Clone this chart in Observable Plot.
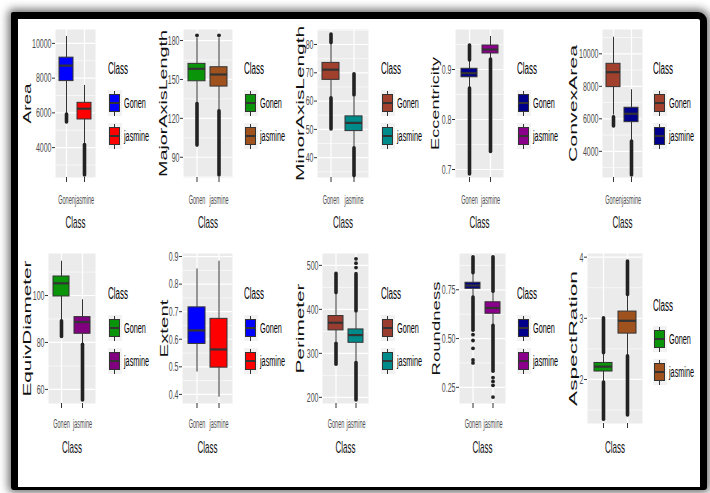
<!DOCTYPE html>
<html><head><meta charset="utf-8">
<script src="https://cdn.jsdelivr.net/npm/d3@7"></script>
<script src="https://cdn.jsdelivr.net/npm/@observablehq/plot@0.6"></script>
<style>
html,body{margin:0;padding:0;background:#fff;}
#page{position:relative;width:710px;height:493px;overflow:hidden;font-family:"Liberation Sans",Arial,sans-serif;}
#border{position:absolute;left:11px;top:12px;width:696px;height:478px;box-sizing:border-box;border-style:solid;border-color:#000;border-width:7px 7px 3px 7px;background:#fff;box-shadow:0 0 9px 3px rgba(0,0,0,0.55);border-radius:2px 9px 3px 3px;}
.pan{position:absolute;}
.lg-title{position:absolute;font-size:16px;line-height:16px;color:#000;transform:scaleX(0.5);transform-origin:0 0;white-space:nowrap;}
.lg-label{position:absolute;font-size:14px;line-height:18px;color:#000;transform:scaleX(0.52);transform-origin:0 0;white-space:nowrap;}
.lg-key{position:absolute;width:14px;height:26px;background:#F2F2F2;}
.lg-key .w{position:absolute;left:6.5px;top:0.5px;width:1px;height:25px;background:#333;}
.lg-key .b{position:absolute;left:1.5px;top:4px;width:11px;height:18px;box-sizing:border-box;border:1px solid #333;}
.lg-key .m{position:absolute;left:1.5px;top:12px;width:11px;height:2px;background:#333;}
</style></head>
<body>
<div id="page"><div id="border"></div></div>
<script>
// ---------------- data ----------------
const classes = ["Gonen", "jasmine"];
const features = ["Area","MajorAxisLength","MinorAxisLength","Eccentricity","ConvexArea",
                  "EquivDiameter","Extent","Perimeter","Roundness","AspectRation"];
const legendTitle = "Class";
const xAxisTitle = "Class";
const showClassTickLabels = [true,true,true,true,true,true,true,true,true,false];

const yTicks = [
  [4000,6000,8000,10000],
  [90,120,150,180],
  [40,50,60,70,80],
  [0.7,0.8,0.9],
  [4000,6000,8000,10000],
  [60,80,100],
  [0.4,0.5,0.6,0.7,0.8,0.9],
  [200,300,400,500],
  [0.25,0.5,0.75],
  [2,3,4]
];
const yTickLabels = [
  ["4000","6000","8000","10000"],
  ["90","120","150","180"],
  ["40","50","60","70","80"],
  ["0.7","0.8","0.9"],
  ["4000","6000","8000","10000"],
  ["60","80","100"],
  ["0.4","0.5","0.6","0.7","0.8","0.9"],
  ["200","300","400","500"],
  ["0.25","0.50","0.75"],
  ["2","3","4"]
];
const yMinor = [
  [3000,5000,7000,9000],
  [75,105,135,165],
  [35,45,55,65,75,85],
  [0.75,0.85,0.95],
  [3000,5000,7000,9000,11000],
  [70,90,110],
  [0.45,0.55,0.65,0.75,0.85],
  [250,350,450],
  [0.375,0.625,0.875],
  [1.5,2.5,3.5]
];
const yLimits = [[2280,10800],[74.4,188.5],[33,85.3],[0.684,0.98],[2390,11495],
                 [54,117.9],[0.367,0.911],[186,527],[0.167,0.936],[1.28,4.06]];

const gonenColors   = ["#0000FF","#0A940A","#A0402D","#00008B","#A0402D","#0A940A","#0000FF","#9A3D30","#00008B","#0A940A"];
const jasmineColors = ["#FF0000","#A0521E","#008B8B","#8B008B","#00008B","#800080","#FF0000","#008B8B","#8B008B","#A0521E"];

// [lower whisker, Q1, median, Q3, upper whisker]
const gonenStats = [
  [5950,7830,8720,9180,10400],
  [131,148.6,158.2,162,182],
  [61.4,67.5,71.1,73.5,80],
  [0.864,0.8845,0.8926,0.9014,0.917],
  [6230,7950,8870,9385,11020],
  [89.4,99.6,105.2,108.1,114.6],
  [0.481,0.583,0.632,0.7156,0.855],
  [325,352.2,369.6,384.8,435],
  [0.712,0.755,0.772,0.786,0.832],
  [1.96,2.13,2.21,2.27,2.42]
];
const jasmineStats = [
  [4170,5620,6240,6580,7580],
  [126,144.5,153.8,159.4,182],
  [43.7,49.4,52.3,54.6,61.4],
  [0.922,0.932,0.940,0.948,0.966],
  [4640,5795,6310,6680,7790],
  [79.4,83.7,88.7,90.8,98.2],
  [0.39,0.497,0.563,0.674,0.883],
  [280,324,341.5,354.4,392],
  [0.567,0.627,0.657,0.686,0.738],
  [2.39,2.75,2.96,3.11,3.37]
];

// dense runs of outliers: [feature, class, from, to]
const outlierRuns = [
  ["Area","Gonen",5450,5900],["Area","jasmine",2400,4150],
  ["MajorAxisLength","Gonen",99,131],["MajorAxisLength","jasmine",76,125.5],
  ["MinorAxisLength","Gonen",80.5,83.5],["MinorAxisLength","Gonen",50,61],
  ["MinorAxisLength","jasmine",62,69.5],["MinorAxisLength","jasmine",33.5,43.3],
  ["Eccentricity","Gonen",0.918,0.948],["Eccentricity","Gonen",0.69,0.862],
  ["Eccentricity","jasmine",0.735,0.920],
  ["ConvexArea","Gonen",5530,6100],["ConvexArea","jasmine",2520,4600],
  ["EquivDiameter","Gonen",82.3,89],["EquivDiameter","jasmine",55.3,79],
  ["Perimeter","Gonen",437,481],["Perimeter","Gonen",274,322],
  ["Perimeter","jasmine",395,480],["Perimeter","jasmine",193,278],
  ["Roundness","Gonen",0.835,0.917],["Roundness","Gonen",0.54,0.71],
  ["Roundness","jasmine",0.74,0.917],["Roundness","jasmine",0.33,0.565],
  ["AspectRation","Gonen",2.43,3.0],["AspectRation","Gonen",1.34,1.95],
  ["AspectRation","jasmine",3.38,3.93],["AspectRation","jasmine",1.41,2.38]
];
// isolated outliers: [feature, class, value]
const outlierPoints = [
  ["MajorAxisLength","Gonen",184],["MajorAxisLength","jasmine",184],
  ["Perimeter","jasmine",495],["Perimeter","jasmine",505],["Perimeter","jasmine",515],
  ["Roundness","Gonen",0.52],["Roundness","Gonen",0.49],["Roundness","Gonen",0.45],
  ["Roundness","Gonen",0.39],["Roundness","Gonen",0.375],
  ["Roundness","jasmine",0.30],["Roundness","jasmine",0.28],["Roundness","jasmine",0.26],
  ["Roundness","jasmine",0.20]
];

// ---------------- layout ----------------
const layout = [
  {l:55, r:95, t:29, b:177, yOff:32, yLen:40,  xPad:12, xT:40},
  {l:183,r:232,t:29, b:177, yOff:24, yLen:147, xPad:12, xT:40},
  {l:317,r:368,t:29, b:177, yOff:21, yLen:155, xPad:12, xT:40},
  {l:455,r:503,t:29, b:177, yOff:24, yLen:93,  xPad:12, xT:40},
  {l:602,r:642,t:29, b:177, yOff:33, yLen:117, xPad:12, xT:40},
  {l:48, r:95, t:253,b:403, yOff:25, yLen:136, xPad:10, xT:38.7},
  {l:182,r:232,t:253,b:403, yOff:22, yLen:58,  xPad:10, xT:38.7},
  {l:322,r:368,t:253,b:403, yOff:26, yLen:90,  xPad:10, xT:38.7},
  {l:459,r:505,t:253,b:403, yOff:27, yLen:94,  xPad:10, xT:38.7},
  {l:587,r:642,t:253,b:423, yOff:18, yLen:135, xPad:10, xT:18.7}
];
const legendX = [108,244,381,517,653];

const page = document.getElementById("page");
const mL = 45, mR = 2, mT = 6, mB = 52;

function squeeze(t, s) {
  const x0 = parseFloat(t.getAttribute("x")) || 0;
  const tr = t.getAttribute("transform") || "";
  t.setAttribute("transform", `${tr} translate(${x0},0) scale(${s},1) translate(${-x0},0)`);
}

features.forEach((feat, i) => {
  const L = layout[i];
  const W = L.r - L.l, H = L.b - L.t;
  const stats = [gonenStats[i], jasmineStats[i]];
  const rows = classes.map((c, j) => ({
    cls: c, lo: stats[j][0], q1: stats[j][1], med: stats[j][2], q3: stats[j][3], hi: stats[j][4],
    fill: j === 0 ? gonenColors[i] : jasmineColors[i]
  }));
  const runs = outlierRuns.filter(d => d[0] === feat).map(d => ({cls: d[1], y1: d[2], y2: d[3]}));
  const pts = outlierPoints.filter(d => d[0] === feat).map(d => ({cls: d[1], y: d[2]}));

  const chart = Plot.plot({
    width: W + mL + mR, height: H + mT + mB,
    marginLeft: mL, marginRight: mR, marginTop: mT, marginBottom: mB,
    style: "background: transparent; overflow: visible; font-family: 'Liberation Sans', Arial, sans-serif;",
    x: {domain: classes, paddingInner: 0.25, paddingOuter: 0.225, label: null},
    y: {domain: yLimits[i], label: null},
    marks: [
      Plot.frame({fill: "#EBEBEB", stroke: "none"}),
      Plot.ruleY(yMinor[i], {stroke: "#fff", strokeWidth: 0.6}),
      Plot.ruleY(yTicks[i], {stroke: "#fff", strokeWidth: 1.2}),
      Plot.ruleX(classes, {x: d => d, stroke: "#fff", strokeWidth: 1.2}),
      Plot.axisY({ticks: yTicks[i], tickSize: 3, tickPadding: 1, label: null,
        tickFormat: d => yTickLabels[i][yTicks[i].indexOf(d)],
        fontSize: 13.5, fill: "#4D4D4D", stroke: "#333"}),
      Plot.axisX({tickSize: 5, tickPadding: L.xPad, label: null,
        tickFormat: d => showClassTickLabels[i] ? d : "",
        fontSize: 13.5, fill: "#4D4D4D", stroke: "#333"}),
      Plot.ruleX(rows, {x: "cls", y1: "lo", y2: "q1", stroke: "#333", strokeWidth: 1}),
      Plot.ruleX(rows, {x: "cls", y1: "q3", y2: "hi", stroke: "#333", strokeWidth: 1}),
      Plot.ruleX(runs, {x: "cls", y1: "y1", y2: "y2", stroke: "#222", strokeWidth: 3.6, strokeLinecap: "round"}),
      Plot.dot(pts, {x: "cls", y: "y", r: 1.9, fill: "#222", stroke: "none"}),
      Plot.barY(rows, {x: "cls", y1: "q1", y2: "q3", fill: "fill", stroke: "#333", strokeWidth: 1}),
      Plot.tickY(rows, {x: "cls", y: "med", stroke: "#333", strokeWidth: 2.2}),
      Plot.text([feat], {text: d => d, frameAnchor: "left", dx: -L.yOff, rotate: -90,
        lineAnchor: "top", textAnchor: "middle", fontSize: 10, fill: "#111"}),
      Plot.text([xAxisTitle], {text: d => d, frameAnchor: "bottom", dy: L.xT - 1,
        lineAnchor: "top", textAnchor: "middle", fontSize: 16, fill: "#111"})
    ]
  });

  chart.querySelectorAll("text").forEach(t => {
    const g = t.closest("g[aria-label]");
    const lab = g ? g.getAttribute("aria-label") : "";
    if (lab.includes("y-axis")) squeeze(t, 0.52);
    else if (lab.includes("x-axis")) squeeze(t, 0.41);
    else if (t.textContent === feat) {
      t.setAttribute("textLength", L.yLen);
      t.setAttribute("lengthAdjust", "spacingAndGlyphs");
    } else if (t.textContent === xAxisTitle) squeeze(t, 0.5);
  });

  const wrap = document.createElement("div");
  wrap.className = "pan";
  wrap.style.left = (L.l - mL) + "px";
  wrap.style.top = (L.t - mT) + "px";
  wrap.appendChild(chart);
  page.appendChild(wrap);

  // legend
  const lx = legendX[i % 5];
  const titleTop = i < 5 ? 63 : (i === 9 ? 300 : 288);
  const keyTops = i < 5 ? [94, 127] : (i === 9 ? [330, 363] : [319, 352]);
  const tt = document.createElement("div");
  tt.className = "lg-title";
  tt.textContent = legendTitle;
  tt.style.left = lx + "px";
  tt.style.top = (titleTop - 2) + "px";
  page.appendChild(tt);
  classes.forEach((c, j) => {
    const k = document.createElement("div");
    k.className = "lg-key";
    k.style.left = (lx - 0.5) + "px";
    k.style.top = (keyTops[j] - 4) + "px";
    k.innerHTML = `<div class="w"></div><div class="b" style="background:${rows[j].fill}"></div><div class="m"></div>`;
    page.appendChild(k);
    const lb = document.createElement("div");
    lb.className = "lg-label";
    lb.textContent = c;
    lb.style.left = (lx + 16) + "px";
    lb.style.top = keyTops[j] + "px";
    page.appendChild(lb);
  });
});
</script>
</body></html>
